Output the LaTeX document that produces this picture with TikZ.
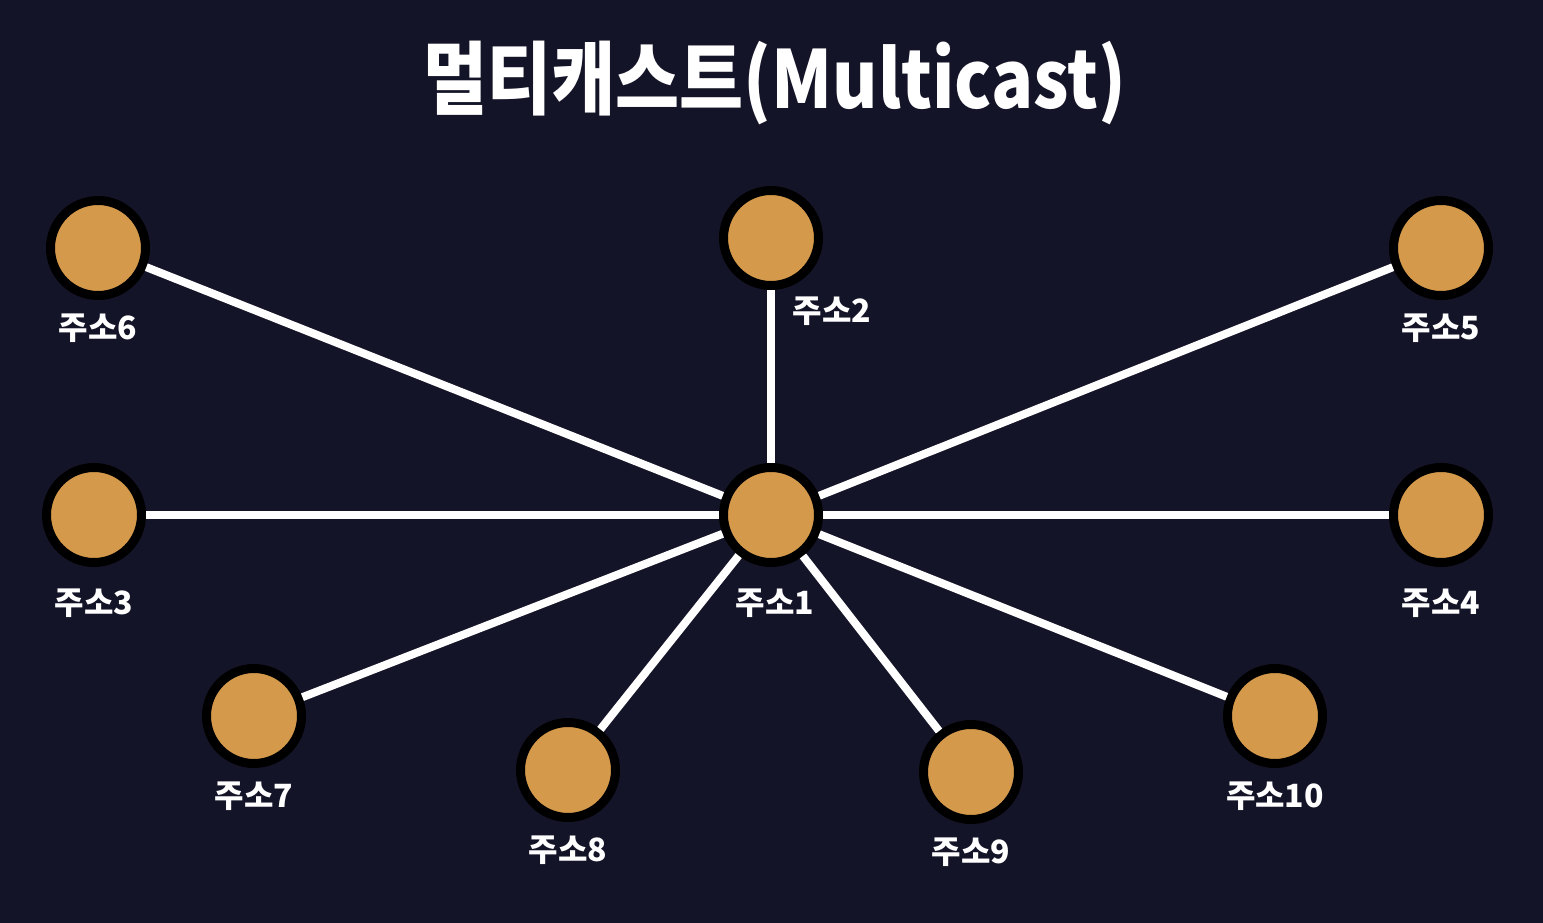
\documentclass[tikz,border=0pt]{standalone}
\usepackage{fontspec}
\newfontfamily\kr{Noto Sans CJK KR Black}
\definecolor{bg}{HTML}{141428}
\definecolor{nodeorange}{HTML}{D4994A}
\tikzset{
  host/.style={circle, fill=nodeorange, draw=black, line width=9pt, minimum size=95pt, inner sep=0pt},
  link/.style={draw=white, line width=8pt},
  lbl/.style={text=white, font=\kr\fontsize{32}{36}\selectfont, inner sep=0pt},
}
\begin{document}
\begin{tikzpicture}[x=1pt,y=-1pt]
\fill[bg] (0,0) rectangle (1543,923);
\useasboundingbox (0,0) rectangle (1543,923);
\node[text=white, font=\kr\fontsize{80}{86}\selectfont, inner sep=0pt] (title) at (775,83) {\scalebox{0.87}[1]{멀티캐스트(Multicast)}};
\node[host] (n1) at (771,515) {};
\node[host] (n2) at (771,238) {};
\node[host] (n3) at (94,515) {};
\node[host] (n4) at (1441,515) {};
\node[host] (n5) at (1441,248) {};
\node[host] (n6) at (98,248) {};
\node[host] (n7) at (254,716) {};
\node[host] (n8) at (568,770) {};
\node[host] (n9) at (971,772) {};
\node[host] (n10) at (1275,716) {};
\foreach \n in {n2,n3,n4,n5,n6,n7,n8,n9,n10} {\draw[link] (n1) -- (\n);}
\node[lbl] (l1) at (775,603) {주소1};
\node[lbl] (l2) at (832,311) {주소2};
\node[lbl] (l3) at (94,603) {주소3};
\node[lbl] (l4) at (1441,603) {주소4};
\node[lbl] (l5) at (1441,328) {주소5};
\node[lbl] (l6) at (98,328) {주소6};
\node[lbl] (l7) at (254,796) {주소7};
\node[lbl] (l8) at (568,850) {주소8};
\node[lbl] (l9) at (971,852) {주소9};
\node[lbl] (l10) at (1275,796) {주소10};
\end{tikzpicture}
\end{document}
